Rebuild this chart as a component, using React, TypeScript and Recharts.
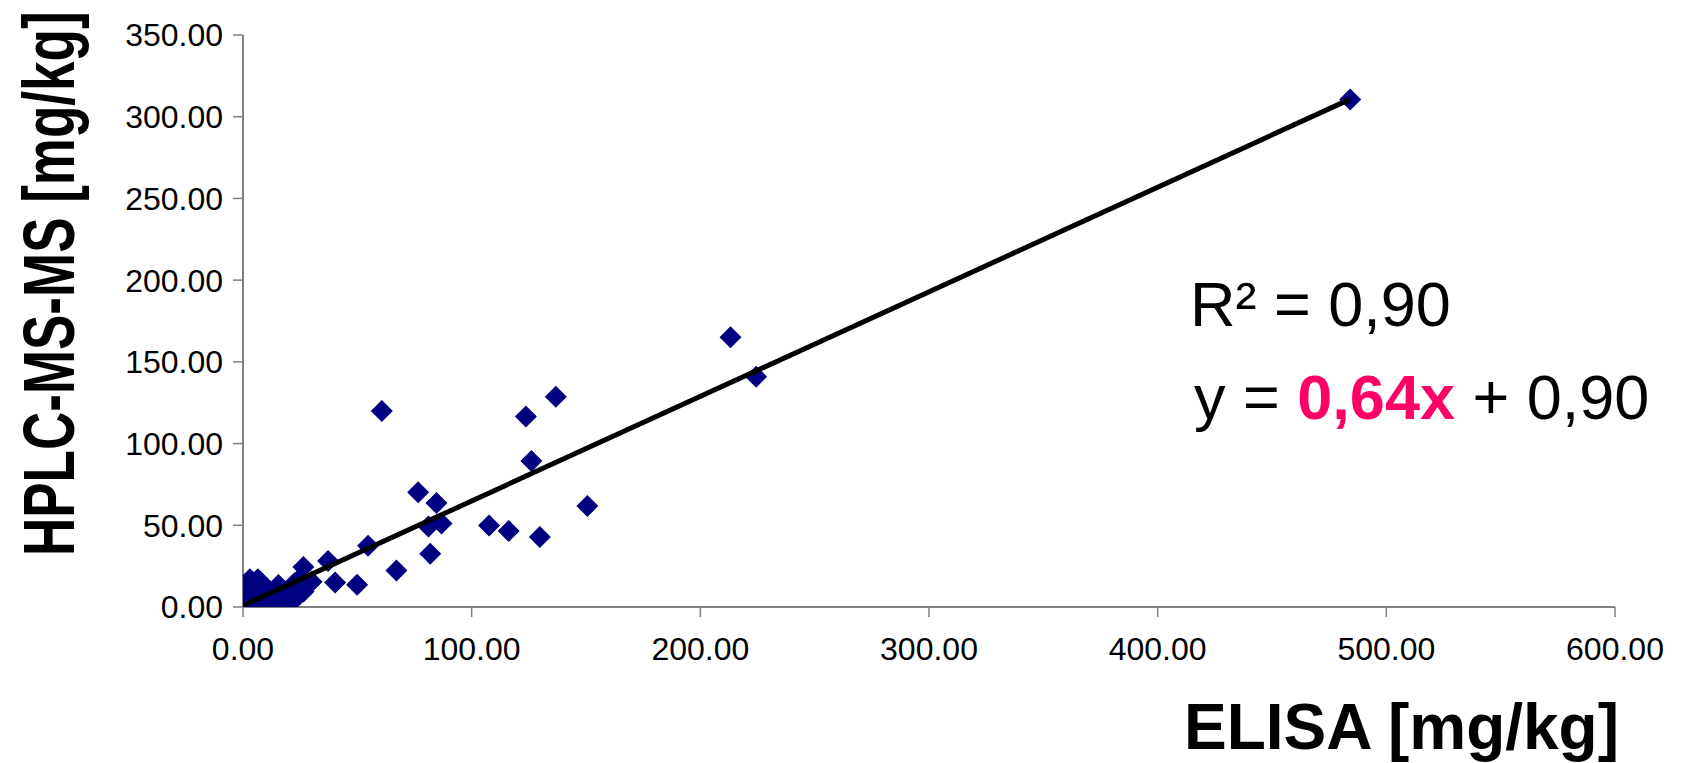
import { ScatterChart, Scatter, XAxis, YAxis } from "recharts";

// ELISA (x) vs HPLC-MS-MS (y), mg/kg
const elisa = [
  0.3, 0.5, 0.2, 1.5, 2.5, 3.0, 3.5, 4.5, 5.5, 6.5, 7.5, 8.0, 9.0, 10.5, 10.5,
  12.0, 13.0, 15.5, 16.5, 19.5, 20.0, 22.5, 23.0, 23.5, 22.5, 26.5, 26.4, 30.0,
  37.2, 40.3, 49.9, 54.7, 60.7, 67.1, 76.6, 81.1, 81.9, 84.6, 86.8, 107.6, 116.2,
  123.7, 126.1, 129.8, 136.8, 150.6, 213.2, 224.4, 484.2,
];
const hplc = [
  0.5, 5.5, 12.5, 9.0, 1.5, 17.0, 14.0, 8.0, 3.5, 17.0, 15.5, 10.0, 6.0, 2.5, 11.5,
  4.5, 7.0, 13.5, 2.5, 9.5, 2.5, 4.5, 11.5, 15.5, 14.5, 9.5, 24.5, 15.5,
  28.2, 15.0, 13.6, 37.5, 119.9, 22.3, 70.2, 49.3, 32.6, 63.6, 51.1, 49.8, 46.5,
  116.5, 89.4, 42.8, 128.7, 61.8, 165.1, 140.9, 310.6,
];

// trend line end points as drawn
const trendX = [0.5, 484];
const trendY = [1.2, 310.6];

const xTicks = [0, 100, 200, 300, 400, 500, 600];
const yTicks = [0, 50, 100, 150, 200, 250, 300, 350];

const points = elisa.map((x, i) => ({ x, y: hplc[i] }));
const trend = trendX.map((x, i) => ({ x, y: trendY[i] }));

const FONT = "'Liberation Sans', Arial, Helvetica, sans-serif";
const AXIS = "#808080";

function Diamond(props: any) {
  const { cx, cy } = props;
  if (cx == null || cy == null) return <g />;
  const r = 11;
  return (
    <polygon
      points={`${cx},${cy - r} ${cx + r},${cy} ${cx},${cy + r} ${cx - r},${cy}`}
      fill="#000080"
    />
  );
}

const fmt = (v: number) => v.toFixed(2);

export default function App() {
  return (
    <div style={{ position: "absolute", left: 0, top: 0, width: 1683, height: 763, background: "#fff" }}>
      <ScatterChart
        width={1683}
        height={763}
        margin={{ top: 35, right: 68, bottom: 96, left: 0 }}
        style={{ fontFamily: FONT }}
      >
        <XAxis
          type="number"
          dataKey="x"
          domain={[0, 600]}
          ticks={xTicks}
          tickFormatter={fmt}
          height={60}
          tickSize={10}
          tickMargin={20}
          axisLine={{ stroke: AXIS, strokeWidth: 2 }}
          tickLine={{ stroke: AXIS, strokeWidth: 1.5 }}
          tick={{ fontSize: 32, fill: "#000", fontFamily: FONT }}
          allowDataOverflow
        />
        <YAxis
          type="number"
          dataKey="y"
          domain={[0, 350]}
          ticks={yTicks}
          tickFormatter={fmt}
          width={243}
          tickSize={10}
          tickMargin={10}
          axisLine={{ stroke: AXIS, strokeWidth: 2 }}
          tickLine={{ stroke: AXIS, strokeWidth: 1.5 }}
          tick={{ fontSize: 32, fill: "#000", fontFamily: FONT }}
          allowDataOverflow
        />
        <Scatter data={points} shape={Diamond} isAnimationActive={false} />
        <Scatter
          data={trend}
          line={{ stroke: "#000", strokeWidth: 5 }}
          shape={() => <g />}
          isAnimationActive={false}
        />
      </ScatterChart>
      <svg
        width={1683}
        height={763}
        style={{ position: "absolute", left: 0, top: 0, pointerEvents: "none" }}
      >
        {/* condensed, tall y title like the original */}
        <text
          transform="translate(74, 556) rotate(-90) scale(1, 1.36)"
          fontFamily={FONT}
          fontWeight="bold"
          fontSize={53}
          fill="#000"
        >
          HPLC-MS-MS [mg/kg]
        </text>
        <text x={1619} y={749} textAnchor="end" fontFamily={FONT} fontWeight="bold" fontSize={64} fill="#000">
          ELISA [mg/kg]
        </text>
        <text x={1190} y={326} fontFamily={FONT} fontSize={63} fill="#000">
          R² = 0,90
        </text>
        <text x={1194} y={419} fontFamily={FONT} fontSize={63} fill="#000">
          y ={" "}
          <tspan fill="#FF0066" fontWeight="bold">0,64x</tspan>
          {" "}+ 0,90
        </text>
      </svg>
    </div>
  );
}
